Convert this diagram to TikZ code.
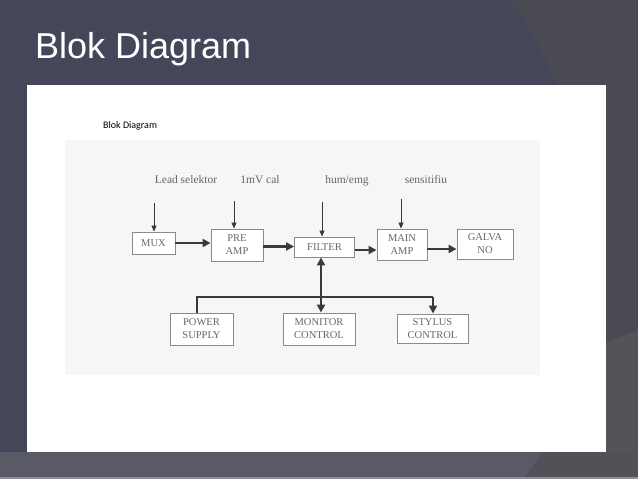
\documentclass[tikz,border=0pt]{standalone}
\usepackage{fontspec}
\setmainfont{Liberation Serif}
\newfontfamily\titlefont{Liberation Sans}
\newfontfamily\smallfont{Carlito}
\usetikzlibrary{arrows.meta}
\definecolor{bgslate}{HTML}{45465A}
\definecolor{bgright}{HTML}{4A4A52}
\definecolor{bglowr}{HTML}{535359}
\definecolor{bgband}{HTML}{595A65}
\definecolor{bgbandr}{HTML}{515158}
\definecolor{bgline}{HTML}{8C8D96}
\definecolor{scanbg}{HTML}{F6F6F6}
\definecolor{boxedge}{HTML}{8A8A8A}
\definecolor{boxtext}{HTML}{666666}
\definecolor{arrowcol}{HTML}{3A3A3A}
\tikzset{
  blockbox/.style={draw=boxedge, line width=0.9pt, fill=white, align=center,
    inner sep=0pt, font=\fontsize{10.5}{13}\selectfont, text=boxtext},
  thickarrow/.style={draw=arrowcol, line width=2.2pt, -{Triangle[length=8pt,width=8pt]}},
  thickline/.style={draw=arrowcol, line width=2.2pt},
  thinarrow/.style={draw=arrowcol, line width=0.8pt, -{Triangle[length=6pt,width=5pt]}},
  inlabel/.style={font=\fontsize{11.5}{12}\selectfont, text=boxtext, inner sep=0pt, anchor=base}
}
\begin{document}
\begin{tikzpicture}[x=1pt,y=-1pt]
\useasboundingbox (0,0) rectangle (638,479);
% slide background
\fill[bgslate] (0,0) rectangle (638,479);
\fill[bgright] (510,0) .. controls (535,35) and (550,65) .. (562,100) -- (562,360) -- (638,330) -- (638,0) -- cycle;
\fill[bglowr] (562,360) -- (638,330) -- (638,479) -- (562,479) -- cycle;
\fill[bgband] (0,452) rectangle (638,479);
\fill[bgbandr] (543,452) -- (523,479) -- (638,479) -- (638,452) -- cycle;
\fill[bgline] (0,477) rectangle (638,479);
\node[anchor=base west, inner sep=0pt, text=white, font=\titlefont\fontsize{36}{38}\selectfont] (title) at (35,58) {Blok Diagram};
% white content area
\fill[white] (27,85) rectangle (606,452);
\node[anchor=base west, inner sep=0pt, font=\smallfont\fontsize{10}{11}\selectfont] (subtitle) at (103,128) {Blok Diagram};
% scanned area
\fill[scanbg] (65,140) rectangle (540,375);
% blocks
\node[blockbox, minimum width=43pt, minimum height=22pt] (mux) at (153.5,243) {MUX};
\node[blockbox, minimum width=52pt, minimum height=32pt] (pre) at (237,245) {PRE\\AMP};
\node[blockbox, minimum width=60pt, minimum height=20pt] (filter) at (324.5,247) {FILTER};
\node[blockbox, minimum width=50pt, minimum height=31pt] (main) at (402,244.5) {MAIN\\AMP};
\node[blockbox, minimum width=56pt, minimum height=30pt] (galva) at (485,244) {GALVA\\NO};
\node[blockbox, minimum width=63pt, minimum height=32pt] (power) at (201.5,329) {POWER\\SUPPLY};
\node[blockbox, minimum width=72pt, minimum height=32pt] (monitor) at (319,329) {MONITOR\\CONTROL};
\node[blockbox, minimum width=71pt, minimum height=29pt] (stylus) at (432.5,328.5) {STYLUS\\CONTROL};
% input labels
\node[inlabel] (lead) at (186,183) {Lead selektor};
\node[inlabel] (cal) at (260,183) {1mV cal};
\node[inlabel] (hum) at (347,183) {hum/emg};
\node[inlabel] (sens) at (426,183) {sensitifiu};
% input arrows
\coordinate (i1) at (154,203);
\coordinate (i2) at (234,201);
\coordinate (i3) at (322,202);
\coordinate (i4) at (401,199);
\draw[thinarrow] (i1) -- (i1 |- mux.north);
\draw[thinarrow] (i2) -- (i2 |- pre.north);
\draw[thinarrow] (i3) -- (i3 |- filter.north);
\draw[thinarrow] (i4) -- (i4 |- main.north);
% main chain
\draw[thickarrow] (mux.east) -- (mux.east -| pre.west);
\draw[thickarrow] ([yshift=-1.5pt]pre.east) -- ([yshift=-1.5pt]pre.east -| filter.west);
\draw[thickarrow] ([yshift=-3pt]filter.east) -- ([yshift=-3pt]filter.east -| main.west);
\draw[thickarrow] ([yshift=-4.5pt]main.east) -- ([yshift=-4.5pt]main.east -| galva.west);
% bus
\coordinate (busL) at (197,297);
\coordinate (busR) at (433,297);
\coordinate (busM) at (321,297);
\draw[thickline] (busL |- power.north) -- (busL) -- (busR);
\draw[thickarrow] (busR) -- (busR |- stylus.north);
\draw[draw=arrowcol, line width=2.2pt, {Triangle[length=8pt,width=8pt]}-{Triangle[length=8pt,width=8pt]}] (busM |- filter.south) -- (busM |- monitor.north);
\end{tikzpicture}
\end{document}
